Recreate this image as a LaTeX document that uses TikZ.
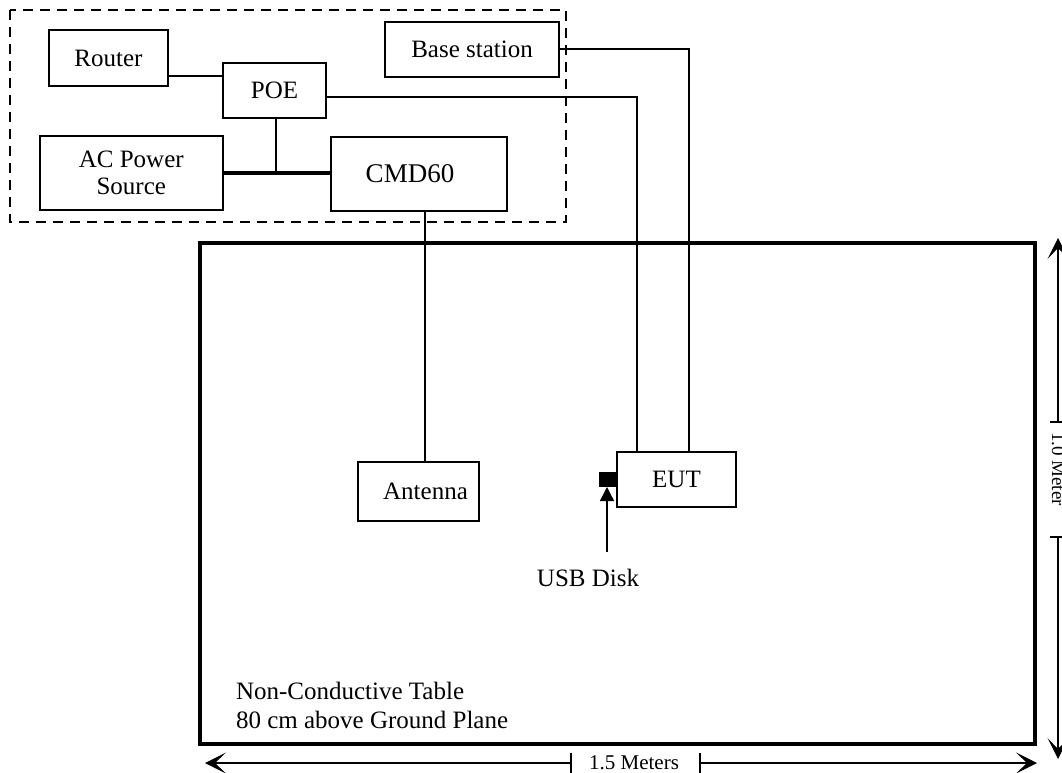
\documentclass[tikz,border=0pt]{standalone}
\usepackage{fontspec}
\setmainfont{Liberation Serif}
\usetikzlibrary{arrows.meta}
\begin{document}
\begin{tikzpicture}[x=1pt,y=-1pt,
  box/.style={draw, line width=2pt, inner sep=0pt, outer sep=0pt, align=center,
    font=\fontsize{25}{27}\selectfont},
  wire/.style={line width=2pt},
  thickwire/.style={line width=3.4pt},
  dim/.style={line width=1.3pt},
  dimtip/.style={-{Stealth[length=21pt,width=21pt,inset=11pt]}},
  lbl/.style={inner sep=0pt, outer sep=0pt}]
\useasboundingbox (0,0) rectangle (1062,773);

% equipment area
\draw[line width=2pt, dash pattern=on 10pt off 7pt] (10,10) rectangle (566,222);
\node[box, minimum width=119, minimum height=56] (router) at (108.5,58) {Router};
\node[box, minimum width=103, minimum height=55] (poe) at (274.5,90.5) {POE};
\node[box, minimum width=174, minimum height=55] (base) at (472,49.3) {Base station};
\node[box, minimum width=183, minimum height=74] (ac) at (131.3,173) {AC Power\\Source};
\node[box, minimum width=176, minimum height=74, font=\fontsize{27}{29}\selectfont] (cmd) at (419,174) {CMD60\hspace*{18pt}};

% table
\draw[line width=3.2pt] (200,243) rectangle (1035,744);
\node[box, minimum width=121, minimum height=59] (ant) at (418.5,491.5) {\hspace*{14pt}Antenna};
\node[box, minimum width=119, minimum height=55] (eut) at (676.5,479.5) {EUT};
\node[fill=black, inner sep=0pt, outer sep=0pt, minimum width=18, minimum height=15] (usb) at (608,479.5) {};
\node[lbl, font=\fontsize{25}{27}\selectfont] (usbl) at (588,578) {USB Disk};
\node[lbl, anchor=west, align=left, font=\fontsize{25}{29}\selectfont] (tbl) at (236,705.5)
  {Non-Conductive Table\\80 cm above Ground Plane};

% connectors
\coordinate (rp) at (0,76);
\draw[wire] (router.east |- rp) -- (poe.west |- rp);
\coordinate (j) at (276,173);
\draw[wire] (poe.south -| j) -- (j);
\draw[thickwire] (ac.east |- j) -- (cmd.west |- j);
\coordinate (c3) at (425,0);
\draw[wire] (cmd.south -| c3) -- (ant.north -| c3);
\coordinate (c1) at (637,97.5);
\draw[wire] (poe.east |- c1) -- (c1) -- (c1 |- eut.north);
\coordinate (c2) at (689,48.7);
\draw[wire] (base.east |- c2) -- (c2) -- (c2 |- eut.north);
\coordinate (ua) at (607,552);
\draw[dim, -{Triangle[length=14pt,width=14pt]}] (ua) -- (ua |- usb.south);

% horizontal dimension
\coordinate (hl) at (205,763);
\coordinate (hr) at (1037,763);
\coordinate (ht1) at (571,763);
\coordinate (ht2) at (700,763);
\node[lbl, font=\fontsize{21}{23}\selectfont] (hlab) at (634,763) {1.5 Meters};
\draw[dim, dimtip] (ht1) -- (hl);
\draw[dim, dimtip] (ht2) -- (hr);
\draw[dim] ([yshift=10pt]ht1) -- ([yshift=-10pt]ht1);
\draw[dim] ([yshift=10pt]ht2) -- ([yshift=-10pt]ht2);

% vertical dimension
\coordinate (vt) at (1058,238);
\coordinate (vb) at (1058,759);
\coordinate (vt1) at (1058,422);
\coordinate (vt2) at (1058,537);
\node[lbl, rotate=-90, anchor=base, font=\fontsize{19}{21}\selectfont] (vlab) at (1052,469) {1.0 Meter};
\draw[dim, dimtip] (vt1) -- (vt);
\draw[dim, dimtip] (vt2) -- (vb);
\draw[dim] ([xshift=-8pt]vt1) -- ([xshift=8pt]vt1);
\draw[dim] ([xshift=-8pt]vt2) -- ([xshift=8pt]vt2);
\end{tikzpicture}
\end{document}
